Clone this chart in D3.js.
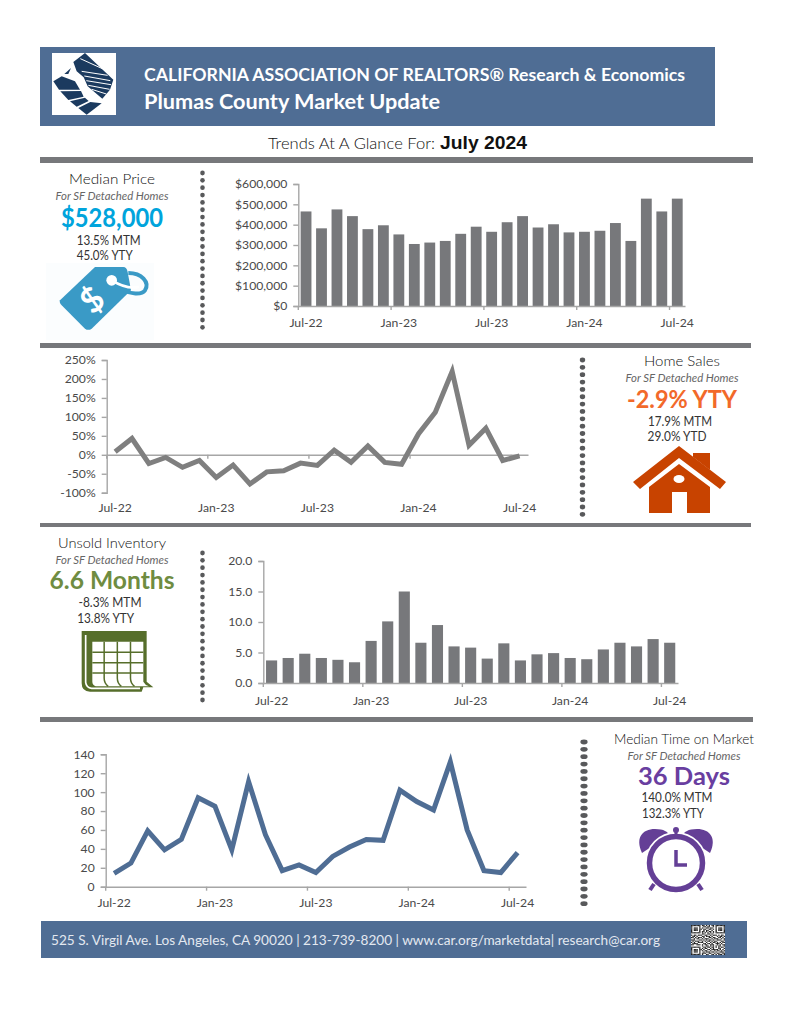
<!DOCTYPE html>
<html><head><meta charset="utf-8">
<script src="https://cdn.jsdelivr.net/npm/d3@7"></script>
<style>html,body{margin:0;background:#fff}svg{display:block}
.axis text{font-family:Lato,sans-serif;fill:#4a4a4a;font-size:12.2px;font-weight:400}
</style></head><body><svg id="c" width="791" height="1024"></svg>
<script>
const months=["Jul-22","Aug-22","Sep-22","Oct-22","Nov-22","Dec-22","Jan-23","Feb-23","Mar-23","Apr-23","May-23","Jun-23","Jul-23","Aug-23","Sep-23","Oct-23","Nov-23","Dec-23","Jan-24","Feb-24","Mar-24","Apr-24","May-24","Jun-24","Jul-24"];
const tickMonths=["Jul-22","Jan-23","Jul-23","Jan-24","Jul-24"];
const medianPrice=[465000,382000,475000,442000,378000,397000,352000,305000,312000,320000,355000,390000,365000,412000,442000,386000,402000,362000,365000,370000,408000,320000,528000,465000,528000];
const homeSales=[8,43,-23,-7,-33,-15,-60,-27,-77,-45,-42,-22,-28,12,-20,23,-20,-25,55,112,220,25,70,-15,-3];
const inventory=[3.7,4.1,4.8,4.1,3.8,3.4,6.9,10.1,15.0,6.6,9.5,6.0,5.8,4.0,6.5,3.7,4.7,4.9,4.1,3.9,5.5,6.6,6.0,7.2,6.6];
const timeOnMarket=[14,25,59,39,50,94,85,39,111,55,17,23,15,32,42,50,49,102,90,81,132,60,17,15,36];
const priceTicks=[0,100000,200000,300000,400000,500000,600000];
const salesTicks=[-100,-50,0,50,100,150,200,250];
const inventoryTicks=[0,5,10,15,20];
const timeTicks=[0,20,40,60,80,100,120,140];
const qrRows=["1111111011010101101111111","1000001001101100101000001","1011101010011011001011101","1011101101100110101011101","1011101001011001001011101","1000001011010110101000001","1111111010101010101111111","0000000011001101000000000","1011011100110010111010110","0110100011011101000101101","1101011101000110110011010","0010110010111001011100101","1110001101010110100111001","0101110010101101011000110","1010011110010010110101011","0111100001101101001110100","1100111010110011100101011","0000000010011010101011001","1111111001101101101010110","1000001010110010100011001","1011101101001101111101010","1011101010110010010110101","1011101001011101101001110","1000001011100110010110011","1111111010011001101011101"];

const svg=d3.select("#c");
const GOTHIC="Lato,sans-serif", ARIAL="'Liberation Sans',Arial,sans-serif";
function txt(s,x,y,size,o={}){
  const t=svg.append("text").text(s).attr("x",x).attr("y",y)
    .attr("font-family",o.font||GOTHIC).attr("font-size",size)
    .attr("fill",o.fill||"#333").attr("text-anchor",o.anchor||"middle");
  t.attr("font-weight",o.weight||400);
  if(o.style)t.attr("font-style",o.style);
  if(o.len)t.attr("textLength",o.len).attr("lengthAdjust","spacingAndGlyphs");
  return t;
}
const rect=(x,y,w,h,f)=>svg.append("rect").attr("x",x).attr("y",y).attr("width",w).attr("height",h).attr("fill",f);
const HEAD="#4f6d94";

// header
rect(40,47,675,79,HEAD);
rect(52,53,64,62,"#fff");
const logo=svg.append("g").attr("transform","translate(45,48) scale(0.3333)");
const NAVY="#1b3a5f";
logo.append("path").attr("d","M85 42L120 15L205 95L195 125L172 152L128 115L116 88L95 70Z").attr("fill",NAVY);
logo.append("path").attr("d","M25 100L50 85L90 100L105 125L42 125Z").attr("fill",NAVY);
logo.append("path").attr("d","M46 130L108 129L116 146L70 156Z").attr("fill",NAVY);
logo.append("path").attr("d","M75 160L120 149L131 159L95 176Z").attr("fill",NAVY);
logo.append("path").attr("d","M100 180L136 162L170 166L125 200Z").attr("fill",NAVY);
logo.append("path").attr("d","M58 78L78 60L70 78Z").attr("fill",NAVY);
[[106,32,172,62],[110,70,188,82],[118,84,196,98],[124,98,198,110],[130,112,194,124],[140,124,184,138]].forEach(d=>
  logo.append("line").attr("x1",d[0]).attr("y1",d[1]).attr("x2",d[2]).attr("y2",d[3]).attr("stroke","#fff").attr("stroke-width",3));
txt("CALIFORNIA ASSOCIATION OF REALTORS® Research & Economics",144,81,16.5,{anchor:"start",weight:700,fill:"#fff",len:541});
txt("Plumas County Market Update",144,109,21,{anchor:"start",weight:700,fill:"#fff",len:296});
txt("Trends At A Glance For:",268,149,15.5,{anchor:"start",fill:"#111",weight:300,len:167});
txt("July 2024",440,149,18,{anchor:"start",weight:700,fill:"#111",font:ARIAL,len:87});

// separators
rect(40,157,713,6,"#77787b");
rect(40,343,711,5,"#77787b");
rect(40,523,711,4,"#77787b");
rect(40,717,713,5,"#77787b");

// dotted dividers
function dots(x,y0,y1,rx,ry){
  const ys=d3.range(y0,y1+.1,7.35);
  svg.append("g").selectAll("ellipse").data(ys).join("ellipse")
    .attr("cx",x).attr("cy",d=>d).attr("rx",rx).attr("ry",ry).attr("fill","#58595b");
}
dots(202.5,173,330,2.3,2.4);
dots(582.5,360,517,2.7,2.4);
dots(202.5,553,704,2.3,2.4);
dots(584,742,906,3.6,2.4);

// charts
function frame(months,x0,x1,yTop,yBot,domain,ticks,fmt,labelY){
  const x=d3.scaleBand().domain(months).range([x0,x1]);
  const y=d3.scaleLinear().domain(domain).range([yBot,yTop]);
  const g=svg.append("g");
  const ya=g.append("g").attr("class","axis").attr("transform",`translate(${x0},0)`)
    .call(d3.axisLeft(y).tickValues(ticks).tickFormat(fmt).tickSize(5).tickPadding(6));
  const base=y(0);
  const xa=g.append("g").attr("class","axis").attr("transform",`translate(0,${base})`)
    .call(d3.axisBottom(x).tickValues(tickMonths).tickSize(0));
  xa.selectAll(".tick text").attr("y",labelY-base).attr("dy",0);
  xa.selectAll(".tick").append("line").attr("x1",-x.bandwidth()/2).attr("x2",-x.bandwidth()/2).attr("y1",0).attr("y2",4);
  [ya,xa].forEach(a=>{a.selectAll("line,path").attr("stroke","#a6a6a6").attr("stroke-width",1.4);});
  return {g,x,y};
}
function bars(c,data,pad){
  const w=c.x.bandwidth()*(1-pad);
  c.g.insert("g",":first-child").selectAll("rect").data(data).join("rect")
    .attr("x",(d,i)=>c.x(months[i])+(c.x.bandwidth()-w)/2).attr("width",w)
    .attr("y",d=>c.y(d)).attr("height",d=>c.y(0)-c.y(d)).attr("fill","#77787b");
}
function line(c,data,color){
  c.g.append("path").datum(data).attr("fill","none").attr("stroke",color).attr("stroke-width",5)
    .attr("stroke-linejoin","miter")
    .attr("d",d3.line().x((d,i)=>c.x(months[i])+c.x.bandwidth()/2).y(d=>c.y(d)));
}
const c1=frame(months,298.3,685,184,306,[0,600000],priceTicks,d3.format("$,.0f"),326.5);
bars(c1,medianPrice,.3);
const c2=frame(months,106.7,528,360,492.7,[-100,250],salesTicks,d=>d+"%",512);
line(c2,homeSales,"#7f7f7f");
const c3=frame(months,263.3,678,561,683,[0,20],inventoryTicks,d3.format(".1f"),704.5);
bars(c3,inventory,.33);
const c4=frame(months,105.7,526,754.3,886.7,[0,140],timeTicks,d=>d,907.5);
line(c4,timeOnMarket,HEAD);

// side panels
function panel(cx,y,title,titleLen,big,color,bigSize,bigLen,bigY,lines){
  txt(title,cx,y,14,{fill:"#111",weight:300,len:titleLen});
  txt("For SF Detached Homes",cx,y+16,10.5,{style:"italic",fill:"#666",len:113});
  txt(big,cx,bigY,bigSize,{weight:700,fill:color,len:bigLen});
  lines.forEach(l=>txt(l[0],l[1],l[2],13,{fill:"#333",len:l[3]}));
}
panel(112,184,"Median Price",86,"$528,000","#00a4dc",27,102,227,[["13.5% MTM",108.7,245,64],["45.0% YTY",104.7,260,56]]);
panel(682,366,"Home Sales",76,"-2.9% YTY","#f2692a",25,110,408,[["17.9% MTM",680,426,64],["29.0% YTD",677,441,59]]);
panel(112,548,"Unsold Inventory",108,"6.6 Months","#6f8c41",25,125,589,[["-8.3% MTM",110,607,63],["13.8% YTY",105.7,623,57]]);
panel(684,744,"Median Time on Market",140,"36 Days","#693ea0",24,92,785,[["140.0% MTM",677,802,71],["132.3% YTY",673,818,62]]);

// price tag icon
rect(46,263,108,77,"#fbfdfe");
const TAG="#3a9ac6";
const tag=svg.append("g").attr("transform","translate(45,262) scale(0.3333)");
tag.append("path").attr("d","M250 33C290 33 315 60 300 85C290 100 255 95 235 85").attr("fill","none").attr("stroke",TAG).attr("stroke-width",12);
tag.append("path").attr("d","M45 115L150 15H235Q245 15 248 30L258 85L140 200Q130 207 120 200L50 130Q42 122 45 115Z").attr("fill",TAG);
tag.append("circle").attr("cx",200).attr("cy",55).attr("r",16).attr("fill","#fff");
tag.append("path").attr("d","M200 55C225 70 255 82 282 74").attr("fill","none").attr("stroke","#fff").attr("stroke-width",8);
txt("$",92,312,34,{weight:700,fill:"#fff"}).attr("transform","rotate(-40 92 300)");

// house icon
const house=svg.append("g").attr("fill","#c84300");
house.append("path").attr("d","M693 453H710V470L693 457Z");
house.append("path").attr("d","M679 446L726 482L720 489L679 458L640 489L633 482Z");
house.append("path").attr("d","M649 487L679 464L710 487V513H687V492H672V513H649Z");
svg.append("ellipse").attr("cx",679).attr("cy",479).attr("rx",5.5).attr("ry",4).attr("fill","#fff");

// calendar icon
const CAL="#566e2b";
const cal=svg.append("g").attr("transform","translate(75,625) scale(0.3333)");
cal.append("path").attr("d","M20 18H215V170L235 187H205L200 200H45Q20 200 20 175Z").attr("fill",CAL);
cal.append("path").attr("d","M32 30V172Q34 188 50 190H195").attr("fill","none").attr("stroke","#fff").attr("stroke-width",5);
cal.append("path").attr("d","M52 50H205V170Q210 180 222 184H62Q52 180 52 170Z").attr("fill","#fff");
d3.range(0,3).forEach(i=>{
  const y=82+i*31;
  cal.append("line").attr("x1",52).attr("x2",205).attr("y1",y).attr("y2",y).attr("stroke",CAL).attr("stroke-width",4.5);
});
d3.range(1,4).forEach(i=>{
  const x=48+i*39.5;
  cal.append("path").attr("d",`M${x} 50V160Q${x} 175 ${x+12} 184`).attr("fill","none").attr("stroke",CAL).attr("stroke-width",4.5);
});

// clock icon
const CLK="#643f96";
const clk=svg.append("g");
clk.append("path").attr("d","M642 853C635 838 642 829 655 829C664 829 668 832 669 835Z").attr("fill",CLK);
clk.append("path").attr("d","M710 853C717 838 710 829 697 829C688 829 684 832 683 835Z").attr("fill",CLK);
clk.append("circle").attr("cx",676).attr("cy",863).attr("r",31).attr("fill","#fff");
clk.append("circle").attr("cx",676).attr("cy",863).attr("r",26.5).attr("fill","#fff").attr("stroke",CLK).attr("stroke-width",5.5);
clk.append("line").attr("x1",676).attr("x2",676).attr("y1",829).attr("y2",838).attr("stroke",CLK).attr("stroke-width",3);
clk.append("circle").attr("cx",676).attr("cy",830).attr("r",3).attr("fill",CLK);
clk.append("path").attr("d","M676 850V865H687").attr("fill","none").attr("stroke",CLK).attr("stroke-width",3.5);
clk.append("line").attr("x1",654).attr("x2",650).attr("y1",884).attr("y2",890).attr("stroke",CLK).attr("stroke-width",4);
clk.append("line").attr("x1",698).attr("x2",702).attr("y1",884).attr("y2",890).attr("stroke",CLK).attr("stroke-width",4);

// footer
rect(41,921,706,37,HEAD);
txt("525 S. Virgil Ave. Los Angeles, CA 90020 | 213-739-8200 | www.car.org/marketdata| research@car.org",51,945,12.5,{anchor:"start",fill:"#e3e8f0",len:609});
rect(691,925,34,30,"#fff");
const q=svg.append("g");
const qx=d3.scaleBand().domain(d3.range(25)).range([691,725]);
const qy=d3.scaleBand().domain(d3.range(25)).range([925,955]);
qrRows.forEach((r,j)=>r.split("").forEach((b,i)=>{
  if(b==="1")q.append("rect").attr("x",qx(i)).attr("y",qy(j)).attr("width",qx.bandwidth()).attr("height",qy.bandwidth()).attr("fill","#222");
}));
</script></body></html>
